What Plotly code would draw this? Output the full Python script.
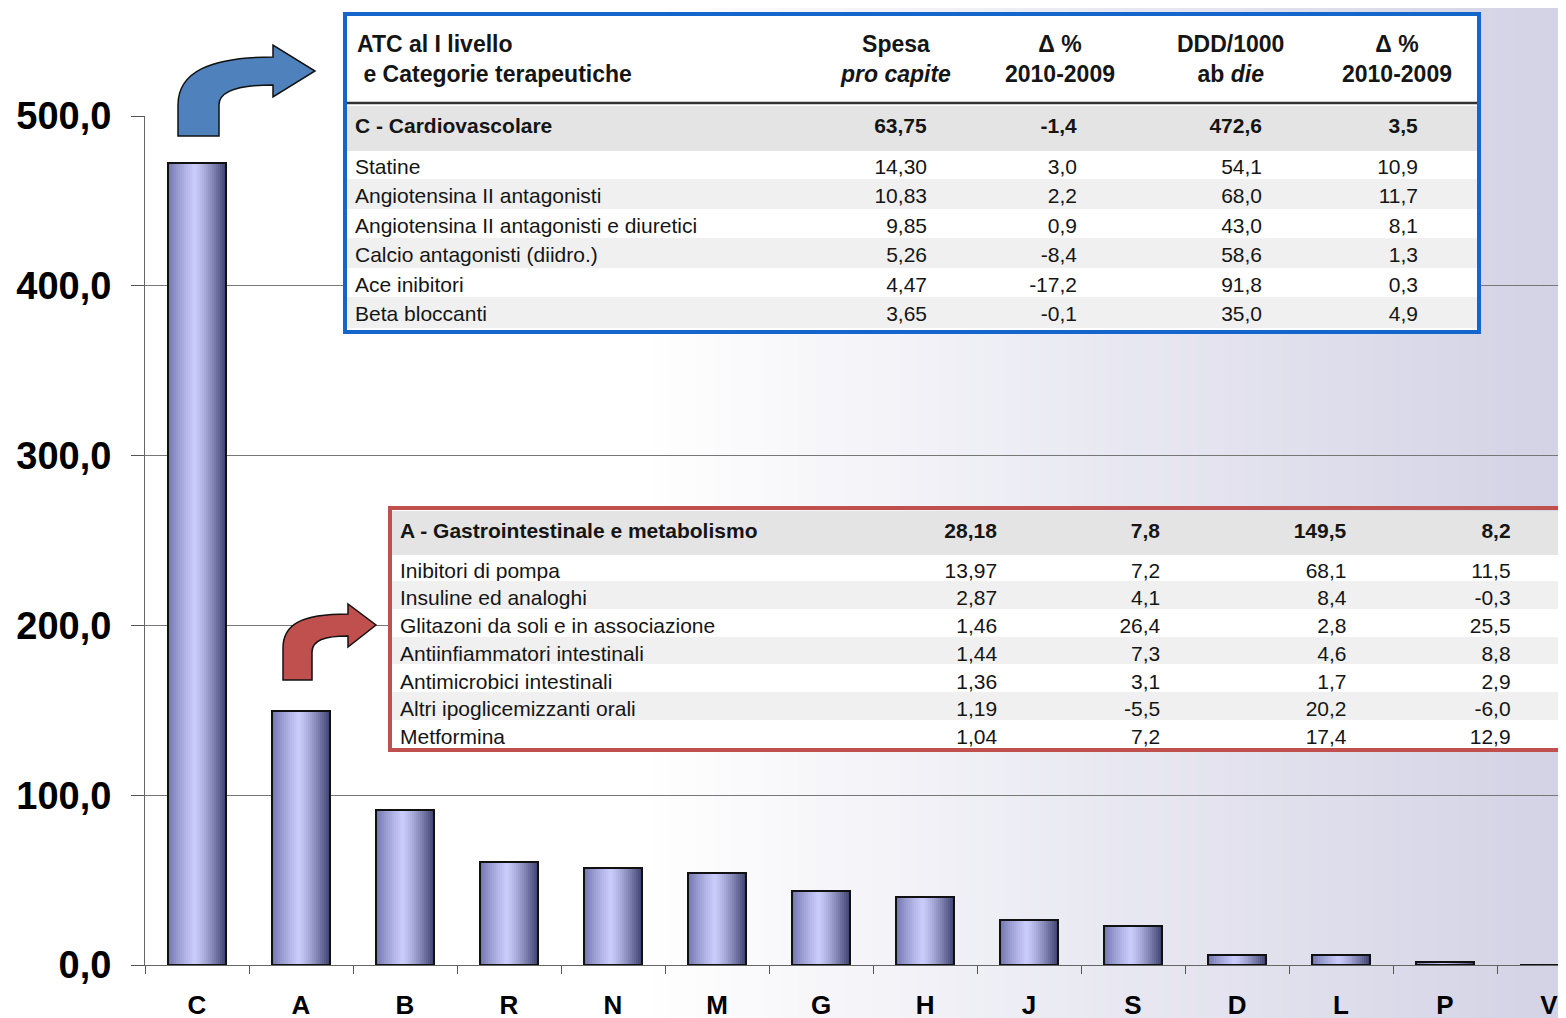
import plotly.graph_objects as go

# ---- data ----
categories = ["C", "A", "B", "R", "N", "M", "G", "H", "J", "S", "D", "L", "P", "V"]
ddd_values = [472.6, 149.5, 91.5, 60.5, 57.0, 54.0, 43.5, 40.0, 26.5, 23.0, 5.8, 5.8, 1.5, 0.0]

header_titles = ["ATC al I livello<br>\u00a0e Categorie terapeutiche", "Spesa<br><i>pro capite</i>",
                 "\u0394 %<br>2010-2009", "DDD/1000<br>ab <i>die</i>", "\u0394 %<br>2010-2009"]

c_row = ["C - Cardiovascolare", 63.75, -1.4, 472.6, 3.5]
c_names = ["Statine", "Angiotensina II antagonisti", "Angiotensina II antagonisti e diuretici",
           "Calcio antagonisti (diidro.)", "Ace inibitori", "Beta bloccanti"]
c_spesa = [14.30, 10.83, 9.85, 5.26, 4.47, 3.65]
c_spesa_delta = [3.0, 2.2, 0.9, -8.4, -17.2, -0.1]
c_ddd = [54.1, 68.0, 43.0, 58.6, 91.8, 35.0]
c_ddd_delta = [10.9, 11.7, 8.1, 1.3, 0.3, 4.9]

a_row = ["A - Gastrointestinale e metabolismo", 28.18, 7.8, 149.5, 8.2]
a_names = ["Inibitori di pompa", "Insuline ed analoghi", "Glitazoni da soli e in associazione",
           "Antiinfiammatori intestinali", "Antimicrobici intestinali", "Altri ipoglicemizzanti orali",
           "Metformina"]
a_spesa = [13.97, 2.87, 1.46, 1.44, 1.36, 1.19, 1.04]
a_spesa_delta = [7.2, 4.1, 26.4, 7.3, 3.1, -5.5, 7.2]
a_ddd = [68.1, 8.4, 2.8, 4.6, 1.7, 20.2, 17.4]
a_ddd_delta = [11.5, -0.3, 25.5, 8.8, 2.9, -6.0, 12.9]

W, H = 1566, 1018
OFF = 8  # page body margin
NARROW = "Liberation Sans Narrow, Arial Narrow, Liberation Sans, Arial, sans-serif"
SANS = "Liberation Sans, Arial, sans-serif"


def px(x):
    return (x - OFF) / W


def py(y):
    return 1 - (y - OFF) / H


def it(v, d=1):
    return f"{v:.{d}f}".replace(".", ",")


def mix(c1, c2, t):
    return "rgb(%d,%d,%d)" % tuple(round(a + (b - a) * t) for a, b in zip(c1, c2))


def bar_shade(t):
    light, left, right = (202, 204, 252), (108, 113, 168), (60, 64, 110)
    if t < 0.45:
        return mix(left, light, (t / 0.45) ** 0.8)
    return mix(light, right, ((t - 0.45) / 0.55) ** 1.3)


fig = go.Figure()

# cylinder-like bars built from thin slices
bw, n = 0.56, 29
for i in range(n):
    fig.add_trace(go.Bar(
        x=categories, y=ddd_values, width=[bw / n * 1.5] * len(categories),
        offset=-bw / 2 + i * bw / n, marker=dict(color=bar_shade((i + 0.5) / n), line=dict(width=0)),
        hoverinfo="skip", showlegend=False,
    ))
fig.add_trace(go.Bar(
    x=categories, y=ddd_values, width=[bw] * len(categories), offset=-bw / 2,
    marker=dict(color="rgba(0,0,0,0)", line=dict(color="#111", width=2)),
    hoverinfo="skip", showlegend=False,
))

# ---- tables ----
TXT = "#151515"
GRAY = "#e4e4e4"
STRIPE = "#f0f0f0"

top_cells = [c_names, [it(v, 2) for v in c_spesa], [it(v) for v in c_spesa_delta],
             [it(v) for v in c_ddd], [it(v) for v in c_ddd_delta], [""] * len(c_names)]
top_fill = ["white" if k % 2 == 0 else STRIPE for k in range(len(c_names))]
fig.add_trace(go.Table(
    domain=dict(x=[px(347), px(1477)], y=[py(331), py(106)]),
    columnwidth=[503, 85, 150, 185, 156, 51],
    header=dict(
        values=[f"<b>{c_row[0]}</b>", f"<b>{it(c_row[1], 2)}</b>", f"<b>{it(c_row[2])}</b>",
                f"<b>{it(c_row[3])}</b>", f"<b>{it(c_row[4])}</b>", ""],
        align=["left", "right", "right", "right", "right", "right"],
        fill=dict(color=GRAY), line=dict(color=GRAY, width=1), height=44,
        font=dict(family=NARROW, size=21, color=TXT),
    ),
    cells=dict(
        values=top_cells, align=["left", "right", "right", "right", "right", "right"],
        fill=dict(color=[top_fill] * 6), line=dict(color=[top_fill] * 6, width=1), height=29.5,
        font=dict(family=NARROW, size=21, color=TXT),
    ),
))

bot_cells = [a_names, [it(v, 2) for v in a_spesa], [it(v) for v in a_spesa_delta],
             [it(v) for v in a_ddd], [it(v) for v in a_ddd_delta], [""] * len(a_names)]
bot_fill = ["white" if k % 2 == 0 else STRIPE for k in range(len(a_names))]
fig.add_trace(go.Table(
    domain=dict(x=[px(392), 1], y=[py(749), py(511)]),
    columnwidth=[508, 101, 162, 185, 163, 55],
    header=dict(
        values=[f"<b>{a_row[0]}</b>", f"<b>{it(a_row[1], 2)}</b>", f"<b>{it(a_row[2])}</b>",
                f"<b>{it(a_row[3])}</b>", f"<b>{it(a_row[4])}</b>", ""],
        align=["left", "right", "right", "right", "right", "right"],
        fill=dict(color=GRAY), line=dict(color=GRAY, width=1), height=43,
        font=dict(family=SANS, size=21, color=TXT),
    ),
    cells=dict(
        values=bot_cells, align=["left", "right", "right", "right", "right", "right"],
        fill=dict(color=[bot_fill] * 6), line=dict(color=[bot_fill] * 6, width=1), height=27.7,
        font=dict(family=SANS, size=21, color=TXT),
    ),
))

# column titles of the top table
annotations = []
for title, xc in zip(header_titles, [355, 895, 1060, 1230, 1397]):
    first = xc == 355
    annotations.append(dict(
        xref="paper", yref="paper", x=px(xc), y=py(59.5), text=f"<b>{title}</b>", showarrow=False,
        xanchor="left" if first else "center", yanchor="middle", align="left" if first else "center",
        font=dict(family=NARROW, size=23, color=TXT),
    ))

# ---- decorations ----
shapes = []
strips = 100
g0, g1 = 640, 1570
for i in range(strips):
    xa = g0 + (g1 - g0) * i / strips
    xb = g0 + (g1 - g0) * (i + 1) / strips + 1
    shapes.append(dict(type="rect", xref="paper", yref="paper", layer="below",
                       x0=px(xa), x1=px(xb), y0=0, y1=1.01,
                       fillcolor=mix((255, 255, 255), (211, 210, 229), (i + 0.5) / strips), line=dict(width=0)))

shapes.append(dict(type="rect", xref="paper", yref="paper", layer="below",
                   x0=px(345), x1=px(1479), y0=py(332), y1=py(14), fillcolor="white", line=dict(width=0)))
shapes.append(dict(type="rect", xref="paper", yref="paper", x0=px(345), x1=px(1479), y0=py(332), y1=py(14),
                   line=dict(color="#1466cc", width=4)))
shapes.append(dict(type="line", xref="paper", yref="paper", x0=px(347), x1=px(1477), y0=py(103), y1=py(103),
                   line=dict(color="#333", width=2.5)))
shapes.append(dict(type="rect", xref="paper", yref="paper", x0=px(390), x1=px(1620), y0=py(750), y1=py(508),
                   line=dict(color="#c0504d", width=4)))


def path(cmds):
    out = []
    for c in cmds:
        if isinstance(c, str):
            out.append(c)
        else:
            out.append(f"{px(c[0]):.5f},{py(c[1]):.5f}")
    return " ".join(out)


blue_arrow = ["M", (178, 136), "L", (178, 105), "C", (178, 72), (210, 57), (273, 57), "L", (273, 45),
              "L", (315, 71), "L", (273, 97), "L", (273, 85), "C", (235, 85), (219, 92), (219, 105),
              "L", (219, 136), "Z"]
red_arrow = ["M", (283, 680), "L", (283, 648), "C", (283, 625), (300, 614), (348, 614), "L", (348, 604),
             "L", (376, 625), "L", (348, 647), "L", (348, 636), "C", (325, 636), (312, 640), (312, 652),
             "L", (312, 680), "Z"]
shapes.append(dict(type="path", xref="paper", yref="paper", path=path(blue_arrow),
                   fillcolor="#4f81bd", line=dict(color="#111", width=1.5)))
shapes.append(dict(type="path", xref="paper", yref="paper", path=path(red_arrow),
                   fillcolor="#c0504d", line=dict(color="#111", width=1.5)))

fig.update_layout(
    width=W, height=H, margin=dict(l=0, r=0, t=0, b=0, pad=0, autoexpand=False),
    paper_bgcolor="white", plot_bgcolor="rgba(0,0,0,0)",
    barmode="overlay", bargap=0, showlegend=False, separators=",.",
    shapes=shapes, annotations=annotations,
    xaxis=dict(
        domain=[px(145), 1], range=[-0.5, 13.24], type="category", automargin=False,
        showline=True, linecolor="#666", linewidth=1, showgrid=False,
        ticks="outside", ticklen=8, tickcolor="#555", tickson="boundaries",
        tickfont=dict(family=SANS, size=26, color="black", weight="bold"), ticklabelstandoff=17,
    ),
    yaxis=dict(
        domain=[py(965), py(116)], range=[0, 500], tickvals=[0, 100, 200, 300, 400, 500], automargin=False,
        tickformat=".1f", showline=True, linecolor="#666", linewidth=1,
        showgrid=True, gridcolor="#777", gridwidth=1, zeroline=False,
        ticks="outside", ticklen=13, tickcolor="#555",
        tickfont=dict(family=SANS, size=38, color="black", weight="bold"), ticklabelstandoff=12,
    ),
)

fig.write_html("out.html")
